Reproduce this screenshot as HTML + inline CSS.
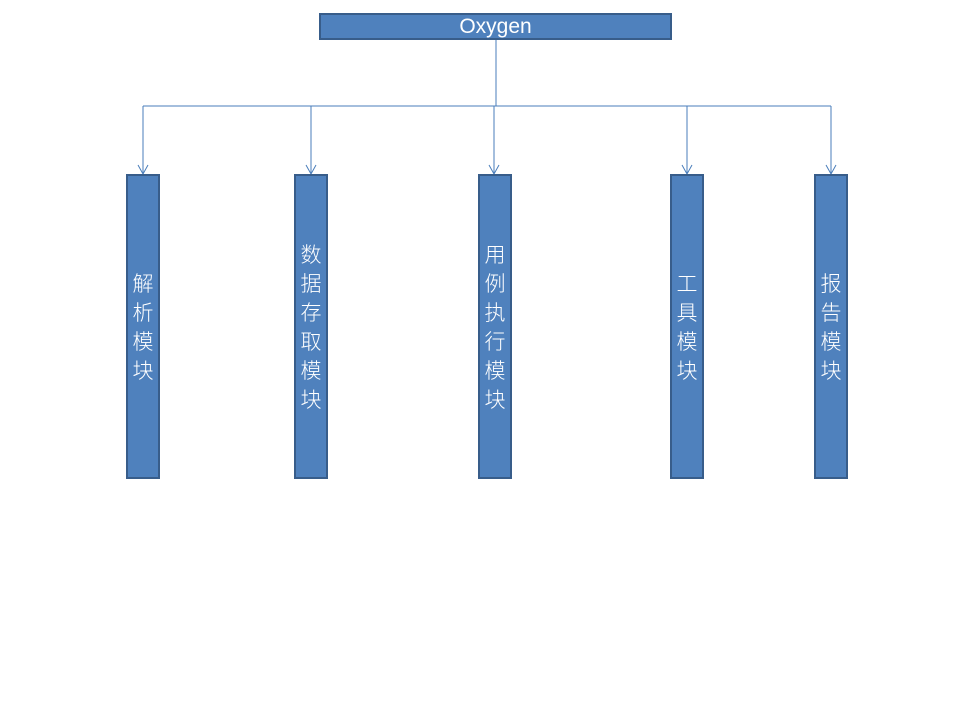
<!DOCTYPE html>
<html><head><meta charset="utf-8"><style>
body{margin:0;width:960px;height:720px;background:#fff;position:relative;overflow:hidden;font-family:"Liberation Sans","Noto Sans CJK SC",sans-serif}
.b{position:absolute;background:#4f81bd;border:2px solid #385d8a;box-sizing:border-box;color:#fff}
.v{top:174px;width:34px;height:305px;display:flex;align-items:center;justify-content:center;font-size:21px;line-height:29px;text-align:center;font-family:"Noto Sans CJK SC",sans-serif;font-weight:300}
svg{position:absolute;left:0;top:0}
</style></head><body>
<svg width="960" height="720">
<g stroke="#4a7ebb" stroke-width="1" fill="none">
<line x1="496" y1="39" x2="496" y2="106"/>
<line x1="143" y1="106" x2="831" y2="106"/>
<line x1="143" y1="106" x2="143" y2="174"/>
<line x1="311" y1="106" x2="311" y2="174"/>
<line x1="494" y1="106" x2="494" y2="174"/>
<line x1="687" y1="106" x2="687" y2="174"/>
<line x1="831" y1="106" x2="831" y2="174"/>
<polyline points="138,165 143,174 148,165"/>
<polyline points="306,165 311,174 316,165"/>
<polyline points="489,165 494,174 499,165"/>
<polyline points="682,165 687,174 692,165"/>
<polyline points="826,165 831,174 836,165"/>
</g></svg>
<div class="b" style="left:319px;top:13px;width:353px;height:27px;font-size:21px;line-height:23px;text-align:center">Oxygen</div>
<div class="b v" style="left:126px">解<br>析<br>模<br>块</div>
<div class="b v" style="left:294px">数<br>据<br>存<br>取<br>模<br>块</div>
<div class="b v" style="left:478px">用<br>例<br>执<br>行<br>模<br>块</div>
<div class="b v" style="left:670px">工<br>具<br>模<br>块</div>
<div class="b v" style="left:814px">报<br>告<br>模<br>块</div>
</body></html>
